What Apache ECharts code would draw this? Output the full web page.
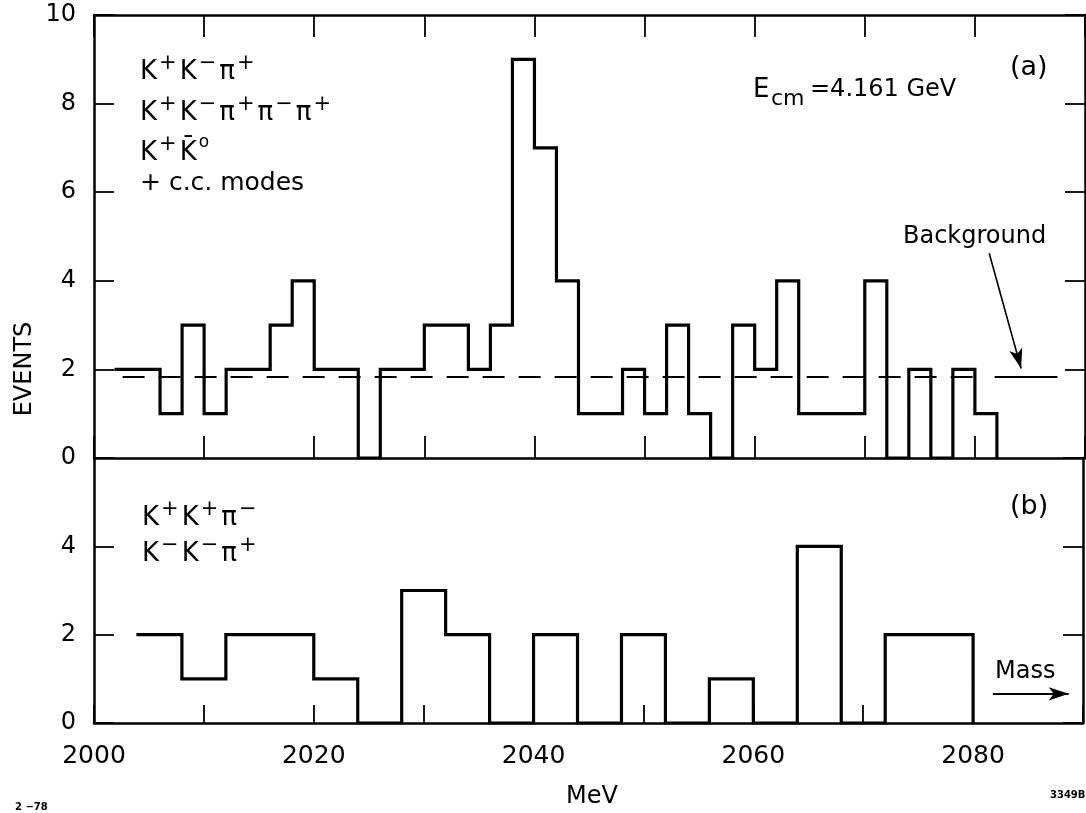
<!DOCTYPE html>
<html><head><meta charset="utf-8">
<script src="https://cdn.jsdelivr.net/npm/echarts@6/dist/echarts.min.js"></script>
<style>html,body{margin:0;padding:0;background:#fff}#c{width:1086px;height:813px}</style>
</head><body><div id="c"></div>
<script>
// ---- data ----
// (a) K+K-pi+, K+K-pi+pi-pi+, K+K0bar + c.c. : 2 MeV bins (lower edges)
const topBinEdges = [2002,2004,2006,2008,2010,2012,2014,2016,2018,2020,2022,2024,2026,2028,2030,2032,2034,2036,2038,2040,
                     2042,2044,2046,2048,2050,2052,2054,2056,2058,2060,2062,2064,2066,2068,2070,2072,2074,2076,2078,2080];
const topCounts   = [2,2,1,3,1,2,2,3,4,2,2,0,2,2,3,3,2,3,9,7,
                     4,1,1,2,1,3,1,0,3,2,4,1,1,1,4,0,2,0,2,1];
const topUpperEdge = 2082;
// (b) K+K+pi-, K-K-pi+ : 4 MeV bins (lower edges)
const botBinEdges = [2004,2008,2012,2016,2020,2024,2028,2032,2036,2040,2044,2048,2052,2056,2060,2064,2068,2072,2076];
const botCounts   = [2,1,2,2,1,0,3,2,0,2,0,2,0,1,0,4,0,2,2];
const botUpperEdge = 2080;
// background level in (a)
const backgroundLevel = 1.83;
const backgroundDashed = [2002.6, 2080.6];
const backgroundSolid  = [2081.8, 2087.5];
// tick labels
const xLabelValues = [2000, 2020, 2040, 2060, 2080];
const yTopLabels = [0, 2, 4, 6, 8, 10];
const yBotLabels = [0, 2, 4];

// ---- chart ----
const FONT = '"DejaVu Sans", "Liberation Sans", sans-serif';
const chart = echarts.init(document.getElementById('c'), null, {renderer: 'canvas'});

function hist(edges, counts, upper) {
  return counts.map((c, i) => [edges[i], c]).concat([[upper, 0]]);
}
const axisLine = {show: true, onZero: false, lineStyle: {color: '#000', width: 2.5}};
function xAx(grid, pos, labels, tickLen) {
  return {
    type: 'value', gridIndex: grid, position: pos, min: 2000, max: 2090, interval: 10,
    axisLine: axisLine,
    axisTick: {show: true, inside: true, length: tickLen, lineStyle: {color: '#000', width: 1.8}},
    splitLine: {show: false},
    axisLabel: labels ? {
      show: true, color: '#000', fontSize: 25, fontFamily: FONT, margin: 21,
      formatter: v => xLabelValues.includes(v) ? String(v) : ''
    } : {show: false}
  };
}
function yAx(grid, pos, max, labelList) {
  return {
    type: 'value', gridIndex: grid, position: pos, min: 0, max: max, interval: 2,
    axisLine: axisLine,
    axisTick: {show: true, inside: true, length: 20, lineStyle: {color: '#000', width: 1.8}},
    splitLine: {show: false},
    axisLabel: labelList ? {
      show: true, color: '#000', fontSize: 24, fontFamily: FONT, margin: 18,
      formatter: v => labelList.includes(v) ? String(v) : ''
    } : {show: false}
  };
}
const histLine = {color: '#000', width: 3.2, cap: 'square', join: 'miter'};

const supRich = {
  k: {fontSize: 26, fontFamily: FONT, color: '#000', lineHeight: 32, verticalAlign: 'bottom', padding: [0, 1, 0, 0]},
  s: {fontSize: 21, fontFamily: FONT, color: '#000', lineHeight: 20, verticalAlign: 'top', padding: [0, 3, 0, 1]},
  o: {fontSize: 17, fontFamily: FONT, color: '#000', lineHeight: 20, verticalAlign: 'top', padding: [0, 2, 0, 1]}
};
function label(x, y, text, size, align) {
  return {type: 'text', x: x, y: y, silent: true,
    style: {text: text, fill: '#000', font: (size || 24) + 'px ' + FONT, verticalAlign: 'middle', align: align || 'left'}};
}
function richLabel(x, y, text) {
  return {type: 'text', x: x, y: y, silent: true,
    style: {text: text, rich: supRich, fill: '#000', verticalAlign: 'top', align: 'left'}};
}

chart.setOption({
  animation: false,
  backgroundColor: '#fff',
  grid: [
    {left: 94, top: 15, width: 991, height: 443},
    {left: 94, top: 458, width: 991, height: 265}
  ],
  xAxis: [xAx(0, 'bottom', false, 22), xAx(0, 'top', false, 22), xAx(1, 'bottom', true, 18)],
  yAxis: [yAx(0, 'left', 10, yTopLabels), yAx(0, 'right', 10, null),
          yAx(1, 'left', 6, yBotLabels), yAx(1, 'right', 6, null)],
  series: [
    {type: 'line', xAxisIndex: 0, yAxisIndex: 0, step: 'end', symbol: 'none', silent: true,
     lineStyle: histLine, data: hist(topBinEdges, topCounts, topUpperEdge)},
    {type: 'line', xAxisIndex: 0, yAxisIndex: 0, symbol: 'none', silent: true,
     lineStyle: {color: '#000', width: 2, type: [22, 14]},
     data: backgroundDashed.map(x => [x, backgroundLevel])},
    {type: 'line', xAxisIndex: 0, yAxisIndex: 0, symbol: 'none', silent: true,
     lineStyle: {color: '#000', width: 2},
     data: backgroundSolid.map(x => [x, backgroundLevel]),
     markLine: {silent: true, symbol: ['none', 'arrow'], symbolSize: [10, 20], label: {show: false},
       lineStyle: {color: '#000', width: 1.6, type: 'solid'},
       data: [[{coord: [2081.3, 4.62]}, {coord: [2084.2, 2.02]}]]}},
    {type: 'line', xAxisIndex: 2, yAxisIndex: 2, step: 'end', symbol: 'none', silent: true,
     lineStyle: histLine, data: hist(botBinEdges, botCounts, botUpperEdge),
     markLine: {silent: true, symbol: ['none', 'arrow'], symbolSize: [10, 20], label: {show: false},
       lineStyle: {color: '#000', width: 2.2, type: 'solid'},
       data: [[{coord: [2081.8, 0.66]}, {coord: [2088.7, 0.66]}]]}}
  ],
  graphic: [
    richLabel(140, 53, '{k|K}{s|+}{k|K}{s|−}{k|π}{s|+}'),
    richLabel(140, 94, '{k|K}{s|+}{k|K}{s|−}{k|π}{s|+}{k|π}{s|−}{k|π}{s|+}'),
    richLabel(140, 134, '{k|K}{s|+}{k|K̄}{o|o}'),
    label(140, 183, '+ c.c. modes', 25),
    label(753, 90, 'E', 26),
    label(771, 99, 'cm', 22),
    label(810, 90, '=4.161 GeV', 24),
    label(1010, 68, '(a)', 27),
    label(903, 237, 'Background', 24),
    label(1010, 507, '(b)', 27),
    richLabel(142, 499, '{k|K}{s|+}{k|K}{s|+}{k|π}{s|−}'),
    richLabel(142, 535, '{k|K}{s|−}{k|K}{s|−}{k|π}{s|+}'),
    label(995, 672, 'Mass', 24),
    label(592, 797, 'MeV', 24, 'center'),
    {type: 'text', x: 25, y: 369, rotation: Math.PI / 2, silent: true,
     style: {text: 'EVENTS', fill: '#000', font: '24px ' + FONT, align: 'center', verticalAlign: 'middle'}},
    {type: 'text', x: 15, y: 807, silent: true, style: {text: '2 −78', fill: '#000', font: 'bold 10px ' + FONT, align: 'left', verticalAlign: 'middle'}},
    {type: 'text', x: 1050, y: 795, silent: true, style: {text: '3349B2', fill: '#000', font: 'bold 10px ' + FONT, align: 'left', verticalAlign: 'middle'}}
  ]
});
</script>
</body></html>
